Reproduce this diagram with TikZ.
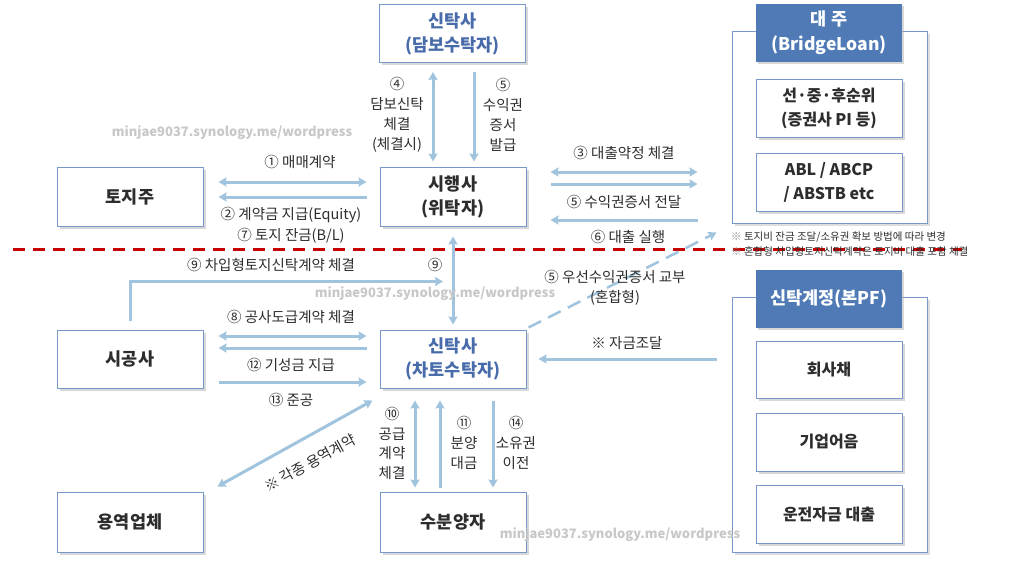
\documentclass[tikz,border=0pt]{standalone}
\usepackage{fontspec}
\setmainfont{Noto Sans CJK KR}
\usetikzlibrary{calc,shadows,arrows.meta}
\definecolor{bordc}{RGB}{120,152,204}
\definecolor{arrc}{RGB}{160,196,222}
\definecolor{headc}{RGB}{80,122,182}
\definecolor{bluet}{RGB}{72,108,170}
\definecolor{txtc}{RGB}{45,45,45}
\definecolor{wmc}{RGB}{200,200,200}
\definecolor{redc}{RGB}{200,0,0}
\tikzset{
  box/.style={draw=bordc, line width=1pt, fill=white, minimum width=146pt, minimum height=58pt,
    inner sep=0pt, align=center, text=txtc, font=\fontsize{17.5}{24}\selectfont\bfseries,
    drop shadow={shadow xshift=2.5pt, shadow yshift=-2.5pt, fill=black!30}},
  ibox/.style={box, font=\fontsize{16}{24}\selectfont\bfseries},
  container/.style={draw=bordc, line width=1pt, fill=white, inner sep=0pt,
    drop shadow={shadow xshift=2.5pt, shadow yshift=-2.5pt, fill=black!25}},
  header/.style={fill=headc, minimum width=146pt, minimum height=58pt, inner sep=0pt, align=center,
    text=white, font=\fontsize{17.5}{25}\selectfont\bfseries,
    drop shadow={shadow xshift=2pt, shadow yshift=-2pt, fill=black!30}},
  arr/.style={draw=arrc, line width=3pt, arrows={-Stealth[length=8pt,width=9pt,inset=1pt]}},
  darr/.style={arr, arrows={Stealth[length=8pt,width=9pt,inset=1pt]-Stealth[length=8pt,width=9pt,inset=1pt]}},
  lab/.style={text=txtc, align=center, inner sep=0pt, font=\fontsize{14.5}{20}\selectfont},
  wm/.style={text=wmc, inner sep=0pt, font=\fontsize{13}{16}\selectfont\bfseries},
}
\begin{document}
\begin{tikzpicture}[x=1pt,y=-1pt]
\useasboundingbox[fill=white] (0,0) rectangle (1024,571);

% red dashed divider
\coordinate (redL) at (13,249);
\coordinate (redR) at (962,249);
\draw[redc, line width=3pt, dash pattern=on 12pt off 8pt] (redL) -- (redR);

% main boxes
\node[box] (dambo) at (452.5,33.5) {\color{bluet}신탁사\\\color{bluet}(담보수탁자)};
\node[box, minimum height=59pt] (toji) at (130,196.5) {토지주};
\node[box, minimum height=59pt] (sihaeng) at (453,196.5) {시행사\\(위탁자)};
\node[box] (sigong) at (130,359) {시공사};
\node[box] (chato) at (453,359) {\color{bluet}신탁사\\\color{bluet}(차토수탁자)};
\node[box, minimum height=60pt] (yongyeok) at (130,522) {용역업체};
\node[box, minimum height=60pt] (subun) at (453,522) {수분양자};

% lender container
\node[container, minimum width=195pt, minimum height=192pt] (daeju) at (829.5,127) {};
\node[header] (daejuh) at (829,33) {대 주\\(BridgeLoan)};
\node[ibox] (d1) at (829,108) {선·중·후순위\\(증권사 PI 등)};
\node[ibox] (d2) at (829,182) {ABL / ABCP\\/ ABSTB etc};

% trust account container
\node[container, minimum width=195pt, minimum height=255pt] (trust) at (829.5,424.5) {};
\node[header] (trusth) at (829,299) {신탁계정(본PF)};
\node[ibox, minimum height=57pt] (t1) at (829,369.5) {회사채};
\node[ibox] (t2) at (829,442) {기업어음};
\node[ibox] (t3) at (829,514) {운전자금 대출};

% notes
\node[anchor=west, inner sep=0pt, text=txtc, font=\fontsize{10.5}{15}\selectfont, align=left] (note) at (731,244.5)
  {{\color{black!45}※} 토지비 잔금 조달/소유권 확보 방법에 따라 변경\\{\color{black!45}※} 혼합형 차입형토지신탁계약은 토지비 대출 포함 체결};

% dambo <-> sihaeng
\draw[darr] ($(dambo.south)+(-19.5,9)$) -- ($(sihaeng.north)+(-20,-5)$);
\draw[arr] ($(dambo.south)+(21.5,9)$) -- ($(sihaeng.north)+(21,-5)$);
\node[lab] (l4) at (397,115) {④\\담보신탁\\체결\\(체결시)};
\node[lab] (l5a) at (503,115) {⑤\\수익권\\증서\\발급};

% toji <-> sihaeng
\draw[darr] ($(toji.east)+(15,-14.5)$) -- ($(sihaeng.west)+(-13,-14.5)$);
\draw[arr] ($(sihaeng.west)+(-13,0.5)$) -- ($(toji.east)+(15,0.5)$);
\node[lab] (l1) at (300,162) {① 매매계약};
\node[lab] (l2) at (291,215) {② 계약금 지급(Equity)};
\node[lab] (l7) at (291,236) {⑦ 토지 잔금(B/L)};

% sihaeng <-> daeju
\draw[darr] ($(sihaeng.east)+(24,-24.5)$) -- ($(sihaeng.east -| daeju.west)+(-34,-24.5)$);
\draw[arr] ($(sihaeng.east)+(24,-12.5)$) -- ($(sihaeng.east -| daeju.west)+(-34,-12.5)$);
\draw[arr] ($(sihaeng.east -| daeju.west)+(-34,23.5)$) -- ($(sihaeng.east)+(24,23.5)$);
\node[lab] (l3) at (624,153) {③ 대출약정 체결};
\node[lab] (l5b) at (624,202) {⑤ 수익권증서 전달};
\node[lab] (l6) at (628,237) {⑥ 대출 실행};

% sihaeng <-> chato
\draw[darr] ($(sihaeng.south)+(0,10)$) -- ($(chato.north)+(0,-5)$);
\node[lab] (l9b) at (435,265) {⑨};

% sigong -> chato (9)
\draw[arr] ($(sigong.north)+(0,-9)$) |- ($(chato.north)+(-10,-48)$);
\node[lab] (l9) at (271,265) {⑨ 차입형토지신탁계약 체결};

% sigong <-> chato
\draw[darr] ($(sigong.east)+(15,-23)$) -- ($(chato.west)+(-13,-23)$);
\draw[arr] ($(chato.west)+(-13,-11)$) -- ($(sigong.east)+(15,-11)$);
\draw[arr] ($(sigong.east)+(15,23)$) -- ($(chato.west)+(-13,23)$);
\node[lab] (l8) at (291,317) {⑧ 공사도급계약 체결};
\node[lab] (l12) at (291,365) {⑫ 기성금 지급};
\node[lab] (l13) at (291,400) {⑬ 준공};

% chato -> daeju dashed
\draw[arr, line width=2.5pt, dash pattern=on 14pt off 8pt] ($(chato.north east)+(2,-2)$) -- ($(daeju.south west)+(-15,9)$);
\node[lab] (l5c) at (615,288) {⑤ 우선수익권증서 교부\\(혼합형)};

% trust -> chato
\draw[arr] ($(chato.east -| trust.west)+(-15,0)$) -- ($(chato.east)+(12,0)$);
\node[lab] (lf) at (627,343) {※ 자금조달};

% yongyeok <-> chato
\draw[darr] ($(yongyeok.north east)+(14,-5)$) -- ($(chato.south west)+(-7,12)$);
\node[lab, rotate=29] (ly) at (310,463) {※ 각종 용역계약};

% chato <-> subun
\draw[darr] ($(chato.south)+(-38,12)$) -- ($(subun.north)+(-38,-4)$);
\draw[arr] ($(subun.north)+(-13,-4)$) -- ($(chato.south)+(-13,12)$);
\draw[arr] ($(chato.south)+(40,12)$) -- ($(subun.north)+(40,-4)$);
\node[lab, font=\fontsize{14.5}{19.5}\selectfont] (l10) at (392,443.5) {⑩\\공급\\계약\\체결};
\node[lab] (l11) at (464,443) {⑪\\분양\\대금};
\node[lab] (l14) at (516,443) {⑭\\소유권\\이전};

% watermarks (on top)
\node[wm] (wm1) at (232,133) {minjae9037.synology.me/wordpress};
\node[wm] (wm2) at (435,294) {minjae9037.synology.me/wordpress};
\node[wm] (wm3) at (620,535) {minjae9037.synology.me/wordpress};
\end{tikzpicture}
\end{document}
